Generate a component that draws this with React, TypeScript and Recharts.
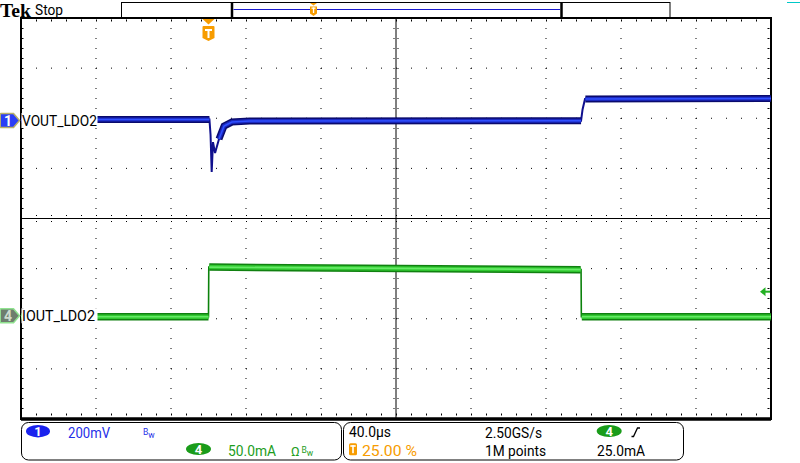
import React from 'react';
import { LineChart, Line, XAxis, YAxis, ReferenceLine, ReferenceArea } from 'recharts';

// ---------- scope settings ----------
const T_MIN = -100; // µs, relative to trigger (trigger at 25 % of record)
const T_MAX = 300;
const US_PER_DIV = 40;
const GRID_X_DIVS = [1, 2, 3, 4, 6, 7, 8, 9];
const GRID_Y_DIVS = [-3, -2, -1, 1, 2, 3];
const T_CENTER = T_MIN + 5 * US_PER_DIV;

const CH1_MV_PER_DIV = 200;
const CH1_POS_DIV = 1.975;
const CH4_MA_PER_DIV = 50;
const CH4_POS_DIV = -1.96;
const TRIGGER_LEVEL_MA = 25;

const V_DOMAIN: [number, number] = [(-4 - CH1_POS_DIV) * CH1_MV_PER_DIV, (4 - CH1_POS_DIV) * CH1_MV_PER_DIV];
const I_DOMAIN: [number, number] = [(-4 - CH4_POS_DIV) * CH4_MA_PER_DIV, (4 - CH4_POS_DIV) * CH4_MA_PER_DIV];

// ---------- waveform data ----------
// CH1 VOUT_LDO2 (mV relative to channel marker)
const VOUT_T = [-100, 0.5, 1.1, 1.7, 2.4, 3.5, 5.6, 8.3, 12.5, 22, 198.7, 199.5, 200.8, 300];
const VOUT_MV = [0, 0, -62, -209, -90, -134, -78, -26, -10, -6, -5, 40, 82, 84];
const VOUT_BAND_T = [-100, 0.5, 0.6, 5.6, 8.3, 12.5, 22, 198.7, 198.8, 201, 300];
const VOUT_BAND_MV: (number | null)[] = [0, 0, null, -78, -26, -10, -6, -5, null, 82, 84];

// CH4 IOUT_LDO2 (mA)
const IOUT_T = [-100, 0, 0.15, 198.7, 198.85, 300];
const IOUT_MA = [0, 0, 49.5, 47, 0, 0];
const IOUT_BAND_T = [-100, 0, 0.1, 0.4, 198.5, 198.6, 199.1, 300];
const IOUT_BAND_MA: (number | null)[] = [0, 0, null, 49.5, 47, null, 0, 0];

const vRows = VOUT_T.map((t, i) => ({ t, v: VOUT_MV[i] }));
const vBandRows = VOUT_BAND_T.map((t, i) => ({ t, v: VOUT_BAND_MV[i] }));
const iRows = IOUT_T.map((t, i) => ({ t, i: IOUT_MA[i] }));
const iBandRows = IOUT_BAND_T.map((t, i) => ({ t, i: IOUT_BAND_MA[i] }));

const PX_X = (T_MAX - T_MIN) / 750; // µs per pixel
const PX_Y = 8 / 401; // div per pixel

const BLUE = '#1f2fe8';
const GREEN = '#1d9d1d';
const ORANGE = '#f79c00';
const FONT = 'Roboto, "DejaVu Sans", sans-serif';

const TriggerMarker = (props: any) => {
  const vb = props.viewBox || {};
  const x = vb.x;
  const y = vb.y;
  return (
    <g>
      <path d={`M${x - 6},${y + 1} h12 l-6,5.5 z`} fill={ORANGE} />
      <path d={`M${x - 6},${y + 9} q0,-1 1,-1 h10 q1,0 1,1 v11 l-6,3 l-6,-3 z`} fill={ORANGE} />
      <rect x={x - 3.5} y={y + 11} width={7} height={2} fill="#fff" />
      <rect x={x - 1} y={y + 11} width={2} height={9} fill="#fff" />
    </g>
  );
};

const ChannelMarker = (props: any) => {
  const vb = props.viewBox || {};
  const { num, name, fill, border, txt, textWidth, dy } = props;
  const y = vb.y + dy;
  const x0 = vb.x;
  return (
    <g>
      <rect x={x0 + 0.5} y={y - 7.5} width={76} height={15} fill="#fff" />
      <path
        d={`M1,${y - 7} h12.5 l6,7 l-6,7 h-12.5 q-0.8,0 -0.8,-0.8 v-12.4 q0,-0.8 0.8,-0.8 z`}
        fill={fill}
        stroke={border}
        strokeWidth={1.5}
      />
      <text x={8} y={y + 5} fontFamily={FONT} fontSize={14} fontWeight={700} fill={txt} textAnchor="middle">
        {num}
      </text>
      <text
        x={x0 + 1}
        y={y + 5.5}
        fontFamily={FONT}
        fontSize={15}
        fill="#000"
        textLength={textWidth}
        lengthAdjust="spacingAndGlyphs"
      >
        {name}
      </text>
    </g>
  );
};

const TriggerLevelArrow = (props: any) => {
  const vb = props.viewBox || {};
  const xr = vb.x + vb.width;
  const y = vb.y;
  return (
    <g>
      <path d={`M${xr - 11},${y} l5.5,-4.5 v9 z`} fill="#22b022" />
      <rect x={xr - 6} y={y - 1} width={5} height={2} fill="#22b022" />
    </g>
  );
};

const gridLineProps = { stroke: '#000', strokeWidth: 1, ifOverflow: 'visible' as const };

export default function App() {
  React.useEffect(() => {
    document.body.style.margin = '0';
  }, []);

  const vertGrid = GRID_X_DIVS.map((k) => T_MIN + k * US_PER_DIV);

  return (
    <div style={{ position: 'fixed', left: 0, top: 0, width: 800, height: 463, background: '#fff', overflow: 'hidden' }}>
      <LineChart width={800} height={463} margin={{ top: 18, right: 29, bottom: 44, left: 21 }}>
        <XAxis type="number" dataKey="t" domain={[T_MIN, T_MAX]} hide allowDataOverflow />
        <YAxis yAxisId="d" type="number" domain={[-4, 4]} hide allowDataOverflow />
        <YAxis yAxisId="v" type="number" domain={V_DOMAIN} hide allowDataOverflow />
        <YAxis yAxisId="i" type="number" domain={I_DOMAIN} hide allowDataOverflow />

        {/* graticule */}
        {GRID_Y_DIVS.map((d) => (
          <ReferenceLine key={'gy' + d} yAxisId="d" y={d} {...gridLineProps} strokeDasharray="1 14" />
        ))}
        {vertGrid.map((t) => (
          <ReferenceLine key={'gx' + t} yAxisId="d" x={t} {...gridLineProps} strokeDasharray="1 9" />
        ))}
        <ReferenceLine yAxisId="d" y={0} {...gridLineProps} />
        <ReferenceLine yAxisId="d" x={T_CENTER} {...gridLineProps} />
        <ReferenceLine yAxisId="d" y={3 * PX_Y} {...gridLineProps} strokeDasharray="1 14" />
        <ReferenceLine yAxisId="d" y={-3 * PX_Y} {...gridLineProps} strokeDasharray="1 14" />
        <ReferenceLine yAxisId="d" x={T_CENTER - 2 * PX_X} {...gridLineProps} strokeDasharray="1 9" />
        <ReferenceLine yAxisId="d" x={T_CENTER + 2 * PX_X} {...gridLineProps} strokeDasharray="1 9" />
        {/* edge ticks */}
        <ReferenceLine yAxisId="d" y={4 - 2.5 * PX_Y} {...gridLineProps} strokeWidth={2} strokeDasharray="1 14" />
        <ReferenceLine yAxisId="d" y={-4 + 4.5 * PX_Y} {...gridLineProps} strokeWidth={2} strokeDasharray="1 14" />
        <ReferenceLine yAxisId="d" x={T_MIN + 1.5 * PX_X} {...gridLineProps} strokeWidth={2} strokeDasharray="1 9" />
        <ReferenceLine yAxisId="d" x={T_MAX - 2.5 * PX_X} {...gridLineProps} strokeWidth={2} strokeDasharray="1 9" />
        <ReferenceArea yAxisId="d" x1={T_MIN} x2={T_MAX} y1={-4} y2={4} fill="none" stroke="#000" strokeWidth={2} fillOpacity={0} ifOverflow="visible" />
        <ReferenceLine yAxisId="d" y={-4} stroke="#000" strokeWidth={3.5} ifOverflow="visible" />

        {/* CH4 current */}
        <Line data={iRows} dataKey="i" yAxisId="i" type="linear" stroke="#0c820c" strokeWidth={1.6} dot={false} activeDot={false} isAnimationActive={false} />
        <Line data={iBandRows} dataKey="i" yAxisId="i" type="linear" stroke="#108010" strokeWidth={7.5} dot={false} activeDot={false} isAnimationActive={false} connectNulls={false} />
        <Line data={iBandRows} dataKey="i" yAxisId="i" type="linear" stroke="#30c830" strokeWidth={4.5} dot={false} activeDot={false} isAnimationActive={false} connectNulls={false} />
        <Line data={iBandRows} dataKey="i" yAxisId="i" type="linear" stroke="#66ea66" strokeWidth={1.6} dot={false} activeDot={false} isAnimationActive={false} connectNulls={false} />

        {/* CH1 voltage */}
        <Line data={vRows} dataKey="v" yAxisId="v" type="linear" stroke="#10108e" strokeWidth={2} dot={false} activeDot={false} isAnimationActive={false} />
        <Line data={vBandRows} dataKey="v" yAxisId="v" type="linear" stroke="#0a0a6c" strokeWidth={7} dot={false} activeDot={false} isAnimationActive={false} connectNulls={false} />
        <Line data={vBandRows} dataKey="v" yAxisId="v" type="linear" stroke="#1a28c0" strokeWidth={4} dot={false} activeDot={false} isAnimationActive={false} connectNulls={false} />
        <Line data={vBandRows} dataKey="v" yAxisId="v" type="linear" stroke="#3050ff" strokeWidth={1.5} dot={false} activeDot={false} isAnimationActive={false} connectNulls={false} />

        {/* markers */}
        <ReferenceLine yAxisId="d" x={0} stroke="none" ifOverflow="visible" label={(p: any) => <TriggerMarker {...p} />} />
        <ReferenceLine
          yAxisId="v"
          y={0}
          stroke="none"
          ifOverflow="visible"
          label={(p: any) => (
            <ChannelMarker {...p} num="1" name="VOUT_LDO2" fill="#2a3ef6" border="#b8b068" txt="#ffffff" textWidth={75} dy={1} />
          )}
        />
        <ReferenceLine
          yAxisId="i"
          y={0}
          stroke="none"
          ifOverflow="visible"
          label={(p: any) => (
            <ChannelMarker {...p} num="4" name="IOUT_LDO2" fill="#6e7e6e" border="#8fe28f" txt="#cfdccf" textWidth={73} dy={-1} />
          )}
        />
        <ReferenceLine yAxisId="i" y={TRIGGER_LEVEL_MA} stroke="none" ifOverflow="visible" label={(p: any) => <TriggerLevelArrow {...p} />} />
      </LineChart>

      <svg width={800} height={463} style={{ position: 'absolute', left: 0, top: 0, pointerEvents: 'none' }}>
        {/* header */}
        <text x={0} y={16.8} fontFamily='"Liberation Serif", serif' fontWeight={700} fontSize={19} fill="#000" textLength={31} lengthAdjust="spacingAndGlyphs">
          Tek
        </text>
        <text x={35} y={15} fontFamily={FONT} fontSize={14} fill="#000" textLength={28} lengthAdjust="spacingAndGlyphs">
          Stop
        </text>
        <rect x={121.5} y={2.5} width={548.5} height={15} fill="#fff" stroke="#000" strokeWidth={1} />
        <rect x={232} y={2.5} width={329.5} height={15} fill="none" stroke="#000" strokeWidth={1} />
        <line x1={232} y1={2} x2={232} y2={18} stroke="#000" strokeWidth={2.5} />
        <line x1={561.5} y1={2} x2={561.5} y2={18} stroke="#000" strokeWidth={2.5} />
        <line x1={233.5} y1={9.5} x2={560} y2={9.5} stroke="#1a1ad0" strokeWidth={1} />
        <path d="M310,3 h7 l-3.5,2.5 z" fill={ORANGE} />
        <path d="M310,6.5 h7 v7 l-3.5,2.5 l-3.5,-2.5 z" fill={ORANGE} />
        <rect x={311.5} y={7.5} width={4} height={1.3} fill="#fff" />
        <rect x={312.9} y={7.5} width={1.3} height={5.5} fill="#fff" />
        <line x1={787} y1={2.5} x2={800} y2={2.5} stroke="#00c8c8" strokeWidth={1} />

        {/* status boxes */}
        <rect x={21.5} y={422.5} width={320} height={37.5} rx={7} fill="#fff" stroke="#000" strokeWidth={1} />
        <rect x={343.5} y={422.5} width={340} height={37.5} rx={7} fill="#fff" stroke="#000" strokeWidth={1} />

        <ellipse cx={38} cy={431.2} rx={12} ry={6.2} fill="#1a22ee" />
        <text x={38} y={436} fontFamily={FONT} fontSize={13} fontWeight={700} fill="#fff" textAnchor="middle">1</text>
        <text x={68} y={437.7} fontFamily={FONT} fontSize={14.6} fill={BLUE} textLength={42} lengthAdjust="spacingAndGlyphs">200mV</text>
        <text x={143} y={434.5} fontFamily={FONT} fontSize={8.5} fill={BLUE}>B</text>
        <text x={148.2} y={437.8} fontFamily={FONT} fontSize={8.5} fill={BLUE}>w</text>

        <ellipse cx={198.5} cy={449} rx={12.5} ry={6} fill="#1a9c1a" />
        <text x={198.5} y={453.8} fontFamily={FONT} fontSize={13} fontWeight={700} fill="#fff" textAnchor="middle">4</text>
        <text x={228} y={456.2} fontFamily={FONT} fontSize={14.6} fill={GREEN} textLength={48} lengthAdjust="spacingAndGlyphs">50.0mA</text>
        <text x={291} y={456.2} fontFamily={FONT} fontSize={13} fill={GREEN}>Ω</text>
        <text x={301.5} y={453} fontFamily={FONT} fontSize={8.5} fill={GREEN}>B</text>
        <text x={306.8} y={456.3} fontFamily={FONT} fontSize={8.5} fill={GREEN}>w</text>

        <text x={349} y={437.3} fontFamily={FONT} fontSize={14.6} fill="#000" textLength={42} lengthAdjust="spacingAndGlyphs">40.0µs</text>
        <rect x={349} y={443.3} width={8} height={12} rx={1.5} fill={ORANGE} />
        <rect x={350.3} y={445.2} width={5.4} height={1.6} fill="#fff" />
        <rect x={352.2} y={445.2} width={1.6} height={8} fill="#fff" />
        <text x={362} y={456.2} fontFamily={FONT} fontSize={14.6} fill={ORANGE} textLength={55} lengthAdjust="spacingAndGlyphs">25.00 %</text>

        <text x={485} y={437.7} fontFamily={FONT} fontSize={14.6} fill="#000" textLength={57} lengthAdjust="spacingAndGlyphs">2.50GS/s</text>
        <text x={485} y={456.2} fontFamily={FONT} fontSize={14.6} fill="#000" textLength={61} lengthAdjust="spacingAndGlyphs">1M points</text>

        <ellipse cx={609.2} cy={431} rx={12.5} ry={6} fill="#1a9c1a" />
        <text x={609.2} y={435.8} fontFamily={FONT} fontSize={13} fontWeight={700} fill="#fff" textAnchor="middle">4</text>
        <path d="M631.5,436.5 h2 l4,-8.5 h2.5" fill="none" stroke="#000" strokeWidth={1.3} />
        <text x={597} y={456.2} fontFamily={FONT} fontSize={14.6} fill="#000" textLength={48} lengthAdjust="spacingAndGlyphs">25.0mA</text>
      </svg>
    </div>
  );
}
